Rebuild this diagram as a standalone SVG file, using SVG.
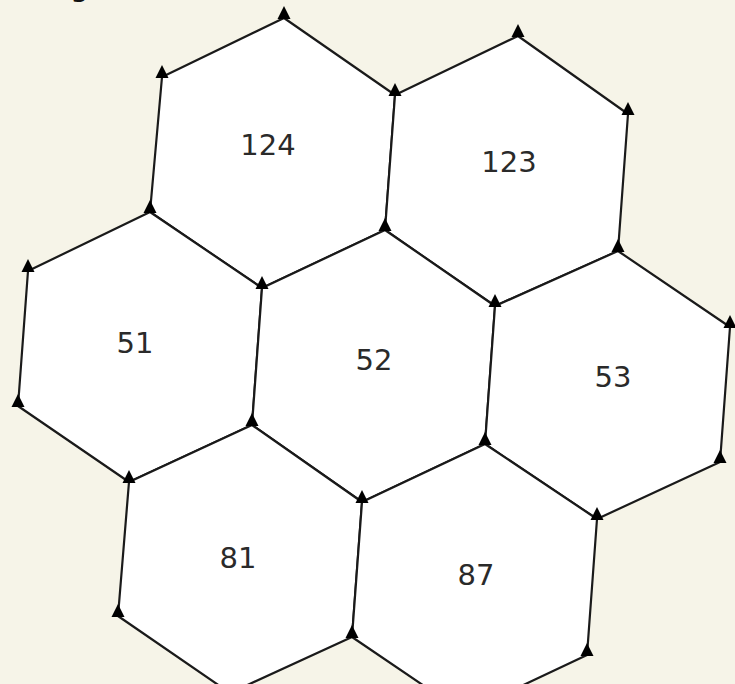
<svg xmlns="http://www.w3.org/2000/svg" xmlns:xlink="http://www.w3.org/1999/xlink" width="735" height="684" viewBox="0 0 735 684">
  <style>
    .hex { fill: #ffffff; stroke: #1a1a1a; stroke-width: 2.2; stroke-linejoin: round; }
    .lbl { font-family: "DejaVu Sans", "Liberation Sans", sans-serif; font-size: 29px; fill: #2a2a2a; text-anchor: middle; }
    .top { font-family: "DejaVu Sans", "Liberation Sans", sans-serif; font-size: 30px; fill: #111111; }
    .vtx { fill: #000000; }
  </style>
  <defs>
    <polygon id="tri" points="0,-12 -6.5,1 6.5,1"/>
  </defs>
  <rect x="0" y="0" width="735" height="684" fill="#f6f4e8"/>
  <text class="top" x="70" y="-4">g</text>
  <text class="top" x="145" y="-4">)</text>

  <g id="hex-124">
    <polygon class="hex" points="284,18 395,95 385,230 262,288 150,212 162,77"/>
    <text class="lbl" x="268" y="155">124</text>
  </g>
  <g id="hex-123">
    <polygon class="hex" points="518,36 628,114 618,251 495,306 385,230 395,95"/>
    <text class="lbl" x="509" y="172">123</text>
  </g>
  <g id="hex-51">
    <polygon class="hex" points="150,212 262,288 252,425 129,482 18,406 28,271"/>
    <text class="lbl" x="135" y="353">51</text>
  </g>
  <g id="hex-52">
    <polygon class="hex" points="385,230 495,306 485,444 362,502 252,425 262,288"/>
    <text class="lbl" x="374" y="370">52</text>
  </g>
  <g id="hex-53">
    <polygon class="hex" points="618,251 730,327 720,462 597,519 485,444 495,306"/>
    <text class="lbl" x="613" y="387">53</text>
  </g>
  <g id="hex-81">
    <polygon class="hex" points="252,425 362,502 352,637 230,693 118,616 129,482"/>
    <text class="lbl" x="238" y="568">81</text>
  </g>
  <g id="hex-87">
    <polygon class="hex" points="485,444 597,519 587,655 464,713 352,637 362,502"/>
    <text class="lbl" x="476" y="585">87</text>
  </g>

  <g id="connectors">
    <g id="vertex-markers" class="vtx">
      <use xlink:href="#tri" href="#tri" x="284" y="18"/>
      <use xlink:href="#tri" href="#tri" x="162" y="77"/>
      <use xlink:href="#tri" href="#tri" x="150" y="212"/>
      <use xlink:href="#tri" href="#tri" x="262" y="288"/>
      <use xlink:href="#tri" href="#tri" x="385" y="230"/>
      <use xlink:href="#tri" href="#tri" x="395" y="95"/>
      <use xlink:href="#tri" href="#tri" x="518" y="36"/>
      <use xlink:href="#tri" href="#tri" x="628" y="114"/>
      <use xlink:href="#tri" href="#tri" x="618" y="251"/>
      <use xlink:href="#tri" href="#tri" x="495" y="306"/>
      <use xlink:href="#tri" href="#tri" x="28" y="271"/>
      <use xlink:href="#tri" href="#tri" x="18" y="406"/>
      <use xlink:href="#tri" href="#tri" x="129" y="482"/>
      <use xlink:href="#tri" href="#tri" x="252" y="425"/>
      <use xlink:href="#tri" href="#tri" x="362" y="502"/>
      <use xlink:href="#tri" href="#tri" x="485" y="444"/>
      <use xlink:href="#tri" href="#tri" x="730" y="327"/>
      <use xlink:href="#tri" href="#tri" x="720" y="462"/>
      <use xlink:href="#tri" href="#tri" x="597" y="519"/>
      <use xlink:href="#tri" href="#tri" x="118" y="616"/>
      <use xlink:href="#tri" href="#tri" x="352" y="637"/>
      <use xlink:href="#tri" href="#tri" x="587" y="655"/>
    </g>
  </g>
</svg>
